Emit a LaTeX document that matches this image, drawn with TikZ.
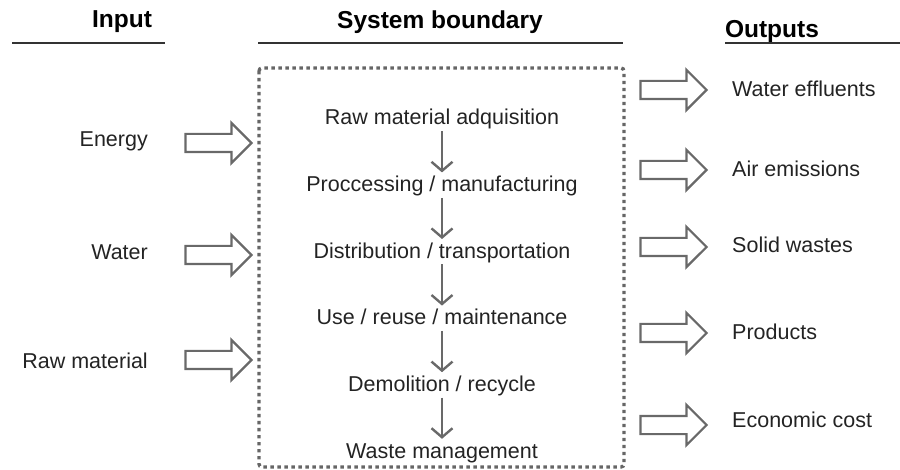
\documentclass[tikz,border=0pt]{standalone}
\usepackage{fontspec}
\setmainfont{Liberation Sans}
\usetikzlibrary{shapes.arrows,arrows.meta,positioning}

\definecolor{txtgray}{RGB}{35,35,35}
\definecolor{arrgray}{RGB}{105,105,105}

\tikzset{
  head/.style={font=\fontsize{24.5}{28}\selectfont\bfseries, text=black},
  headline/.style={line width=1.5pt, black!80},
  label/.style={font=\fontsize{21.5}{25}\selectfont, text=txtgray, inner sep=1pt,
    text height=15pt, text depth=5pt},
  stage/.style={label},
  blockarrow/.style={single arrow, draw=arrgray, fill=white, line width=2.2pt,
    inner sep=0pt, text height=8pt, text depth=8pt, minimum height=66pt,
    single arrow head extend=11pt, single arrow tip angle=90},
  boundary/.style={draw=black!60, line width=3.4pt, dash pattern=on 3.4pt off 3.6pt,
    rounded corners=3pt}
}

\begin{document}
\begin{tikzpicture}[x=1pt,y=-1pt, node distance=66.6pt,
  >={Straight Barb[length=9pt,width=21pt]}]
  \useasboundingbox (0,0) rectangle (900,470);

  % headings
  \node [head] (hin)  at (122,22) {Input};
  \node [head] (hsys) at (440,22) {System boundary};
  \node [head] (hout) at (772,31) {Outputs};
  \draw [headline] (12,43) -- (165,43);
  \draw [headline] (258,43) -- (623,43);
  \draw [headline] (725,43) -- (900,43);

  % system boundary
  \draw [boundary] (259,68) rectangle (624,467);

  % life cycle stages
  \node [stage] (raw)  at (442,120) {Raw material adquisition};
  \node [stage] (proc) [below of=raw]  {Proccessing / manufacturing};
  \node [stage] (dist) [below of=proc] {Distribution / transportation};
  \node [stage] (use)  [below of=dist] {Use / reuse / maintenance};
  \node [stage] (dem)  [below of=use]  {Demolition / recycle};
  \node [stage] (wm)   [below of=dem]  {Waste management};
  \path [->, draw=arrgray, line width=2.4pt, shorten >=3pt]
  (raw) edge (proc)
  (proc) edge (dist)
  (dist) edge (use)
  (use) edge (dem)
  (dem) edge (wm);

  % inputs
  \node [label, anchor=east] (energy) at (149,142) {Energy};
  \node [label, anchor=east] (water)  at (149,255) {Water};
  \node [label, anchor=east] (rawin)  at (149,364) {Raw material};
  \node [blockarrow] (ain1) at (214,143) {};
  \node [blockarrow] (ain2) at (214,255) {};
  \node [blockarrow] (ain3) at (214,360) {};

  % outputs
  \node [blockarrow] (aout1) at (669,90)  {};
  \node [blockarrow] (aout2) at (669,170) {};
  \node [blockarrow] (aout3) at (669,247) {};
  \node [blockarrow] (aout4) at (669,333) {};
  \node [blockarrow] (aout5) at (669,425) {};
  \node [label, anchor=west] (eff)  at (731,92)  {Water effluents};
  \node [label, anchor=west] (air)  at (731,172) {Air emissions};
  \node [label, anchor=west] (sol)  at (731,248) {Solid wastes};
  \node [label, anchor=west] (prod) at (731,335) {Products};
  \node [label, anchor=west] (cost) at (731,423) {Economic cost};
\end{tikzpicture}
\end{document}
